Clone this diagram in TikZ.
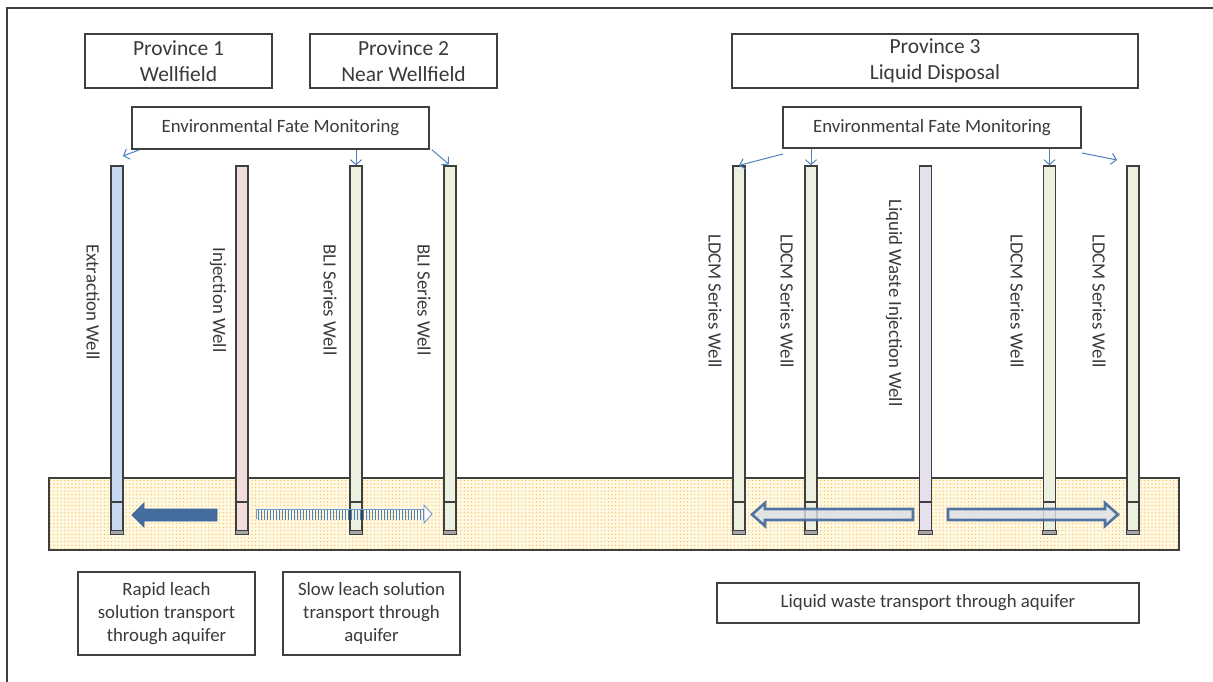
\documentclass[tikz,border=0pt]{standalone}
\usepackage{fontspec}
\setmainfont{Carlito}
\usetikzlibrary{patterns,patterns.meta,arrows.meta}

\definecolor{ink}{HTML}{3A3A3A}
\definecolor{edge}{HTML}{3F3F3F}
\definecolor{wblue}{HTML}{C6D9F1}
\definecolor{wpink}{HTML}{F2DCDB}
\definecolor{wgreen}{HTML}{EBF1DE}
\definecolor{wlav}{HTML}{E5E0EC}
\definecolor{mblue}{HTML}{4F81BD}
\definecolor{flowblue}{HTML}{41689A}
\definecolor{flowfill}{HTML}{DCE0EA}
\definecolor{sandbg}{HTML}{FFF8E4}
\definecolor{sanddot}{HTML}{F5BA30}

% fine dot grid used for the aquifer layer
\tikzdeclarepattern{
  name=sanddots,
  type=uncolored,
  bounding box={(-1pt,-1pt) and (1pt,1pt)},
  tile size={(3.6pt,3.6pt)},
  code={\pgfpathcircle{\pgfpointorigin}{0.62pt}\pgfusepath{fill}}
}

\begin{document}
\begin{tikzpicture}[x=1pt,y=-1pt,
  txt/.style={font=\fontsize{18.8}{23}\selectfont, text=ink},
  labelbox/.style={txt, draw=edge, line width=1.3pt, fill=white, inner sep=0pt, align=center},
  provbox/.style={labelbox, font=\fontsize{21.5}{26.2}\selectfont, minimum height=54pt},
  well/.style={draw=edge, line width=1.3pt, minimum width=12pt, minimum height=368pt, inner sep=0pt},
  welllabel/.style={txt, rotate=-90, inner sep=0pt},
  mon/.style={draw=mblue, line width=1pt, -{Straight Barb[length=5pt,width=11pt]}},
  flowout/.style={draw=flowblue, line width=2.6pt, fill=flowfill, line join=miter, fill opacity=0.8, draw opacity=0.9},
]
\useasboundingbox (0,0) rectangle (1213,682);

% frame
\draw[edge, line width=2pt] (7,682) -- (7,8) -- (1213,8);

% province headers
\node[provbox, minimum width=187pt] (p1) at (178.5,61) {Province 1\\Wellfield};
\node[provbox, minimum width=187pt] (p2) at (403.5,61) {Province 2\\Near Wellfield};
\node[provbox, minimum width=406pt] (p3) at (935,61) {Province 3\\Liquid Disposal};

% monitoring boxes
\node[labelbox, minimum width=297pt, minimum height=42pt] (mon1) at (280.5,128) {Environmental Fate Monitoring};
\node[labelbox, minimum width=298pt, minimum height=41pt] (mon2) at (932,127.5) {Environmental Fate Monitoring};

% aquifer layer
\fill[sandbg] (49,478) rectangle (1179,550);
\fill[pattern=sanddots, pattern color=sanddot] (49,478) rectangle (1179,550);
\draw[edge, line width=1.6pt] (49,478) rectangle (1179,550);

% wells
\foreach \n/\x/\c in {w1/117/wblue, w2/242/wpink, w3/356/wgreen, w4/450/wgreen,
                      w5/739/wgreen, w6/811/wgreen, w7/925.5/wlav, w8/1049.5/wgreen, w9/1133/wgreen}{
  \node[well, fill=\c] (\n) at (\x,350) {};
  \draw[edge, line width=1.2pt] (\n.west |- 0,502) -- (\n.east |- 0,502);
  \draw[edge, line width=1pt, fill=gray!70] (\n.south west) rectangle ([yshift=4pt]\n.south east);
}

% well labels
\node[welllabel] (l1) at (93,302) {Extraction Well};
\node[welllabel] (l2) at (218,300) {Injection Well};
\node[welllabel] (l3) at (330,300) {BLI Series Well};
\node[welllabel] (l4) at (424,300) {BLI Series Well};
\node[welllabel] (l5) at (715,301) {LDCM Series Well};
\node[welllabel] (l6) at (787,301) {LDCM Series Well};
\node[welllabel] (l7) at (894,303) {Liquid Waste Injection Well};
\node[welllabel] (l8) at (1017,301) {LDCM Series Well};
\node[welllabel] (l9) at (1099,301) {LDCM Series Well};

% monitoring connectors
\coordinate (m1a) at (139,150);
\coordinate (m1t) at (123,156);
\draw[mon] (m1a) -- (m1t);
\draw[mon] (mon1.south -| w3.north) -- (w3.north);
\draw[mon] (mon1.south east) ++(2,0) -- ([xshift=-1pt,yshift=1pt]w4.north);

\coordinate (m2a) at (783,154);
\draw[mon] (m2a) -- (w5.north);
\draw[mon] (mon2.south -| w6.north) -- (w6.north);
\draw[mon] (mon2.south -| w8.north) -- (w8.north);
\coordinate (m2b) at (1082,153);
\coordinate (m2t) at (1117,160);
\draw[mon] (m2b) -- (m2t);

% rapid transport arrow
\fill[flowblue!85!mblue, draw=flowblue, line width=0.8pt]
  (217,509) -- (144,509) -- (144,503) -- (132,515) -- (144,527) -- (144,521) -- (217,521) -- cycle;

% slow transport arrow (striped)
\fill[pattern=vertical lines, pattern color=mblue] (256,509) rectangle (424,519);
\draw[mblue!80, line width=0.9pt] (256,519) -- (256,509) -- (424,509);
\draw[mblue!80, line width=0.9pt, fill=white] (424,505) -- (432,514) -- (424,523) -- cycle;

% liquid waste spreading arrows
\draw[flowout] (913,509) -- (765,509) -- (765,503) -- (752,514.5) -- (765,526) -- (765,520) -- (913,520) -- cycle;
\draw[flowout] (948,509) -- (1105,509) -- (1105,503) -- (1118,514.5) -- (1105,526) -- (1105,520) -- (948,520) -- cycle;

% transport captions
\node[labelbox, minimum width=177pt, minimum height=83pt] (b1) at (166.5,613.5) {Rapid leach\\solution transport\\through aquifer};
\node[labelbox, minimum width=177pt, minimum height=83pt] (b2) at (371.5,613.5) {Slow leach solution\\transport through\\aquifer};
\node[labelbox, minimum width=422pt, minimum height=40pt] (b3) at (928,603) {Liquid waste transport through aquifer};
\end{tikzpicture}
\end{document}
